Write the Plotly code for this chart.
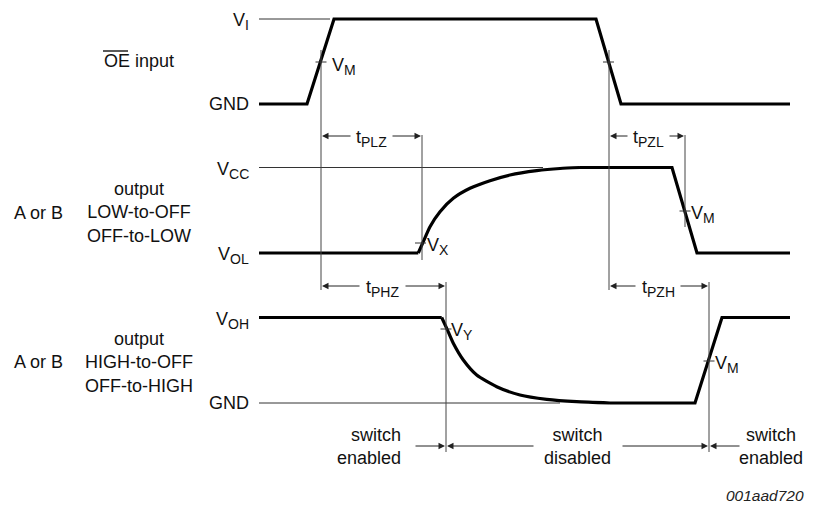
import plotly.graph_objects as go

# ---- waveform data (pixel-space coordinates) ----
OE_X = [259, 307, 334, 596, 621, 790]
OE_Y = [104, 104, 19, 19, 104, 104]

LZ_FLAT1_X = [259, 418.3]
LZ_FLAT1_Y = [253, 253]
LZ_CURVE_X = [418.3, 423.3, 430, 440, 453.3, 470, 490, 510, 536.7, 560, 580]
LZ_CURVE_Y = [253, 241.7, 226.7, 211.7, 198.3, 188.3, 180.7, 175, 170.7, 168.5, 167.5]
LZ_FLAT2_X = [580, 672, 697, 790]
LZ_FLAT2_Y = [167.5, 167.5, 253, 253]

HZ_FLAT1_X = [259, 441.7]
HZ_FLAT1_Y = [317.5, 317.5]
HZ_CURVE_X = [441.7, 446.7, 453.3, 463.3, 476.7, 496.7, 520, 546.7, 576.7, 610]
HZ_CURVE_Y = [317.5, 328.3, 343.3, 360, 375, 386.7, 395, 399.3, 401.7, 403]
HZ_FLAT2_X = [610, 695, 722, 790]
HZ_FLAT2_Y = [403, 403, 317.5, 317.5]

# reference levels (thin lines): (x0, x1, y)
REF_LINES = [(259, 330, 19), (259, 543, 167.5), (259, 560, 403)]
# vertical timing markers: (x, y0, y1)
MARKERS = [(321, 50, 290), (609, 50, 290), (422, 135, 260), (685, 135, 227),
           (446, 282, 452), (709, 282, 452)]
# crossing ticks: (x, y)
TICKS = [(321, 62), (608.5, 62), (420.5, 243), (685, 211), (446, 329), (709, 361)]


def sub(main, s):
    return f"{main}<sub><span style='font-size:14px'>{s}</span></sub>"


# level labels: (text, x_right, y)
LEVEL_LABELS = [(sub("V", "I"), 251, 21), ("GND", 251, 104), (sub("V", "CC"), 251, 170),
                (sub("V", "OL"), 251, 255), (sub("V", "OH"), 251, 320), ("GND", 251, 403)]
# point labels: (text, x_left, y)
POINT_LABELS = [(sub("V", "M"), 330, 66), (sub("V", "X"), 425, 246), (sub("V", "M"), 689, 214),
                (sub("V", "Y"), 449, 331), (sub("V", "M"), 713, 364)]
# timing arrows: (label, x_start, x_end, y, text_left, text_right)
TIMINGS = [(sub("t", "PLZ"), 321, 422, 136, 352, 391),
           (sub("t", "PHZ"), 321, 446, 286, 361, 404),
           (sub("t", "PZL"), 609, 685, 136, 629, 668),
           (sub("t", "PZH"), 609, 709, 286, 637, 679)]

FONT = "Liberation Sans, Arial, sans-serif"
FS = 18

fig = go.Figure()
thick = dict(color="black", width=3.2)
for xs, ys in [(OE_X, OE_Y), (LZ_FLAT1_X, LZ_FLAT1_Y), (LZ_FLAT2_X, LZ_FLAT2_Y),
               (HZ_FLAT1_X, HZ_FLAT1_Y), (HZ_FLAT2_X, HZ_FLAT2_Y)]:
    fig.add_trace(go.Scatter(x=xs, y=ys, mode="lines", line=thick, hoverinfo="skip", showlegend=False))
for xs, ys in [(LZ_CURVE_X, LZ_CURVE_Y), (HZ_CURVE_X, HZ_CURVE_Y)]:
    fig.add_trace(go.Scatter(x=xs, y=ys, mode="lines", line=dict(color="black", width=3.2, shape="spline", smoothing=0.6),
                             hoverinfo="skip", showlegend=False))

thin = dict(color="#333", width=1)
for x0, x1, y in REF_LINES:
    fig.add_shape(type="line", x0=x0, x1=x1, y0=y, y1=y, line=thin, layer="below")
for x, y0, y1 in MARKERS:
    fig.add_shape(type="line", x0=x, x1=x, y0=y0, y1=y1, line=dict(color="#444", width=1))
for x, y in TICKS:
    fig.add_shape(type="line", x0=x - 5.5, x1=x + 5.5, y0=y, y1=y, line=dict(color="#333", width=1))

ann = []
for t, x, y in LEVEL_LABELS:
    ann.append(dict(text=t, x=x, y=y, xanchor="right", yanchor="middle", showarrow=False))
for t, x, y in POINT_LABELS:
    ann.append(dict(text=t, x=x, y=y, xanchor="left", yanchor="middle", showarrow=False))


def arrow(x_tail, x_head, y):
    return dict(x=x_head, y=y, ax=x_tail, ay=y, axref="x", ayref="y", text="", showarrow=True,
                arrowhead=2, arrowsize=1.3, arrowwidth=1, arrowcolor="#222")


for t, xs, xe, y, tl, tr in TIMINGS:
    ann.append(dict(text=t, x=(tl + tr) / 2, y=y + 2, xanchor="center", yanchor="middle", showarrow=False))
    ann.append(arrow(tl, xs + 1, y))
    ann.append(arrow(tr, xe - 1, y))

# switch state arrows
SW_Y = 446
ann.append(arrow(414, 445, SW_Y))
ann.append(arrow(535, 447, SW_Y))
ann.append(arrow(621, 708, SW_Y))
ann.append(arrow(741, 710, SW_Y))
ann.append(dict(text="switch<br>enabled", x=403, y=SW_Y, xanchor="right", yanchor="middle", align="right", showarrow=False))
ann.append(dict(text="switch<br>disabled", x=577, y=SW_Y, xanchor="center", yanchor="middle", align="center", showarrow=False))
ann.append(dict(text="switch<br>enabled", x=771, y=SW_Y, xanchor="center", yanchor="middle", align="center", showarrow=False))

# signal names
ann.append(dict(text="OE input", x=139, y=61, xanchor="center", yanchor="middle", showarrow=False))
ann.append(dict(text="output<br>LOW-to-OFF<br>OFF-to-LOW", x=139, y=212, xanchor="center", yanchor="middle", align="center", showarrow=False))
ann.append(dict(text="A or B", x=38, y=213, xanchor="center", yanchor="middle", showarrow=False))
ann.append(dict(text="output<br>HIGH-to-OFF<br>OFF-to-HIGH", x=139, y=362, xanchor="center", yanchor="middle", align="center", showarrow=False))
ann.append(dict(text="A or B", x=38, y=362, xanchor="center", yanchor="middle", showarrow=False))
ann.append(dict(text="<i>001aad720</i>", x=806, y=495, xanchor="right", yanchor="middle", showarrow=False,
                font=dict(size=15.5, color="#222")))

# overline for OE
fig.add_shape(type="line", x0=103, x1=128, y0=51, y1=51, line=dict(color="black", width=1.3))

fig.update_layout(
    width=813, height=507, margin=dict(l=0, r=0, t=0, b=0),
    paper_bgcolor="white", plot_bgcolor="white",
    font=dict(family=FONT, size=FS, color="#111"),
    xaxis=dict(range=[0, 813], visible=False, fixedrange=True),
    yaxis=dict(range=[507, 0], visible=False, fixedrange=True),
    annotations=ann,
)
fig.write_html("out.html", config={"displayModeBar": False, "staticPlot": True},
               post_script="document.body.style.margin='0';document.body.style.overflow='hidden';")
